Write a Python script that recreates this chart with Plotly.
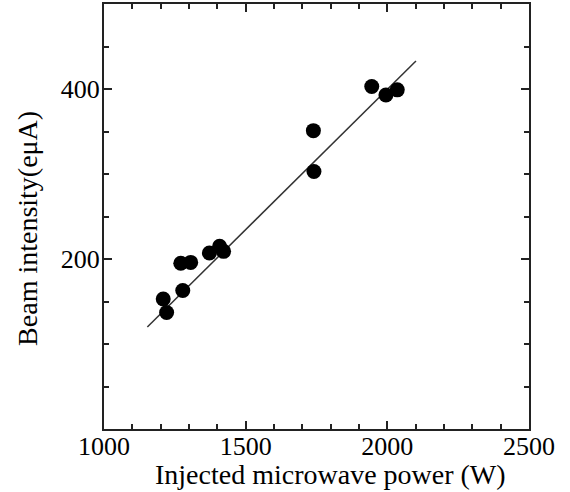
import plotly.graph_objects as go

# Measured data (injected microwave power in W, beam intensity in eμA)
power = [1209, 1221, 1271, 1278, 1306, 1372, 1408, 1422, 1739, 1741, 1945, 1995, 2035]
intensity = [153, 137, 195, 163, 196, 207, 215, 209, 351, 303, 403, 393, 399]

# Linear fit line endpoints
fit_power = [1153, 2101]
fit_intensity = [120, 433]

x_tickvals = [1000, 1500, 2000, 2500]
y_tickvals = [200, 400]

FONT = "Liberation Serif, Times New Roman, serif"
AX = "#222222"

fig = go.Figure()
fig.add_trace(go.Scatter(
    x=fit_power, y=fit_intensity, mode="lines",
    line=dict(color="#333333", width=1.5), showlegend=False, hoverinfo="skip"))
fig.add_trace(go.Scatter(
    x=power, y=intensity, mode="markers",
    marker=dict(color="black", size=15), showlegend=False))

axis_common = dict(
    showgrid=False, zeroline=False, showline=True, linecolor=AX, linewidth=2,
    mirror="ticks", ticks="inside", tickcolor=AX, tickwidth=2, ticklen=8,
    tickfont=dict(family=FONT, size=26, color="black"), automargin=False,
)

fig.update_xaxes(
    range=[1000, 2500], tickmode="array", tickvals=x_tickvals,
    ticktext=[str(v) for v in x_tickvals], ticklabelstandoff=-7,
    minor=dict(dtick=100, ticks="inside", ticklen=5, tickcolor=AX, tickwidth=2, showgrid=False),
    **axis_common)
fig.update_yaxes(
    range=[0, 500], tickmode="array", tickvals=y_tickvals,
    ticktext=[str(v) for v in y_tickvals], ticklabelstandoff=-3,
    minor=dict(dtick=50, ticks="inside", ticklen=5, tickcolor=AX, tickwidth=2, showgrid=False),
    **axis_common)

fig.add_annotation(
    text="Injected microwave power (W)", xref="paper", yref="paper",
    x=0.532, y=-0.108, xanchor="center", yanchor="middle", showarrow=False,
    font=dict(family=FONT, size=28, color="black"))
fig.add_annotation(
    text="Beam intensity(eμA)", xref="paper", yref="paper",
    x=-0.179, y=0.473, xanchor="center", yanchor="middle", showarrow=False,
    textangle=-90, font=dict(family=FONT, size=28, color="black"))

fig.update_layout(
    width=570, height=492,
    margin=dict(l=104, r=41, t=4, b=63),
    paper_bgcolor="white", plot_bgcolor="white",
)

fig.write_html("out.html", config={"displayModeBar": False},
               post_script="document.body.style.margin='0';")
